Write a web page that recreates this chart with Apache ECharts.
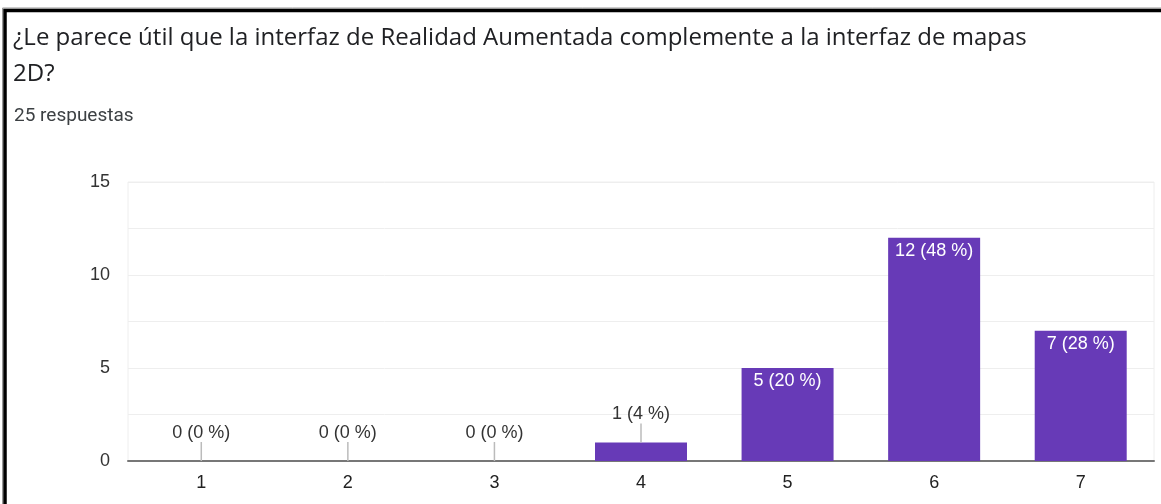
<!DOCTYPE html>
<html>
<head>
<meta charset="utf-8">
<script src="https://cdn.jsdelivr.net/npm/echarts@6/dist/echarts.min.js"></script>
<style>
  html, body { margin: 0; padding: 0; background: #fff; }
  #chart { width: 1161px; height: 504px; }
</style>
</head>
<body>
<div id="chart"></div>
<script>
const categories = ['1', '2', '3', '4', '5', '6', '7']
const counts = [0, 0, 0, 1, 5, 12, 7]
const percents = [0, 0, 0, 4, 20, 48, 28]
const yTicks = [0, 5, 10, 15]

const purple = '#673ab7'
const labelFont = 'Arial, "Liberation Sans", sans-serif'

function labelText (i) {
  return counts[i] + ' (' + percents[i] + ' %)'
}

let chart = echarts.init(document.getElementById('chart'))
chart.setOption({
  animation: false,
  title: [
    {
      text: '¿Le parece útil que la interfaz de Realidad Aumentada complemente a la interfaz de mapas\n2D?',
      left: 13,
      top: 20,
      padding: 0,
      textStyle: {
        fontFamily: '"Open Sans", sans-serif',
        fontWeight: 'normal',
        fontSize: 24,
        lineHeight: 36,
        color: '#202124'
      }
    },
    {
      text: '25 respuestas',
      left: 14,
      top: 107,
      padding: 0,
      textStyle: {
        fontFamily: 'Roboto, sans-serif',
        fontWeight: 'normal',
        fontSize: 19,
        color: '#3c4043'
      }
    }
  ],
  graphic: [
    { type: 'rect', shape: { x: 2.5, y: 8, width: 1170, height: 520 }, style: { fill: 'none', stroke: '#999', lineWidth: 1 } },
    { type: 'rect', shape: { x: 5, y: 10.5, width: 1170, height: 520 }, style: { fill: 'none', stroke: '#000', lineWidth: 3.5 } }
  ],
  grid: {
    show: true,
    left: 128,
    right: 7,
    top: 182,
    bottom: 43,
    borderColor: '#eeeeee',
    borderWidth: 1
  },
  xAxis: {
    type: 'category',
    data: categories,
    axisTick: { show: false },
    axisLine: { lineStyle: { color: '#777', width: 2 } },
    axisLabel: {
      margin: 13,
      fontSize: 18,
      fontFamily: labelFont,
      color: '#222'
    }
  },
  yAxis: {
    type: 'value',
    min: 0,
    max: 15,
    interval: 2.5,
    axisLine: { show: false },
    axisTick: { show: false },
    splitLine: { lineStyle: { color: '#eeeeee', width: 1 } },
    axisLabel: {
      margin: 18,
      fontSize: 18,
      fontFamily: labelFont,
      color: '#333',
      formatter: (v) => yTicks.indexOf(v) >= 0 ? String(v) : ''
    }
  },
  series: [
    {
      type: 'bar',
      barWidth: 92,
      itemStyle: { color: purple },
      data: counts,
      z: 3,
      label: {
        show: true,
        position: 'insideTop',
        distance: 4,
        color: '#fff',
        fontSize: 18,
        fontFamily: labelFont,
        formatter: (p) => counts[p.dataIndex] >= 2 ? labelText(p.dataIndex) : ''
      }
    },
    {
      // outside labels with a short leader line, for bars too short to hold text
      type: 'custom',
      data: counts.map((v, i) => [i, v]),
      z: 4,
      renderItem: (params, api) => {
        let i = api.value(0)
        let v = api.value(1)
        if (v >= 2) return
        let pt = api.coord([i, v])
        return {
          type: 'group',
          children: [
            {
              type: 'line',
              shape: { x1: pt[0], y1: pt[1], x2: pt[0], y2: pt[1] - 19 },
              style: { stroke: '#bbb', lineWidth: 1.5 }
            },
            {
              type: 'text',
              style: {
                x: pt[0],
                y: pt[1] - 28,
                text: labelText(i),
                align: 'center',
                verticalAlign: 'middle',
                fill: '#333',
                font: '18px ' + labelFont
              }
            }
          ]
        }
      }
    }
  ]
})
</script>
</body>
</html>
